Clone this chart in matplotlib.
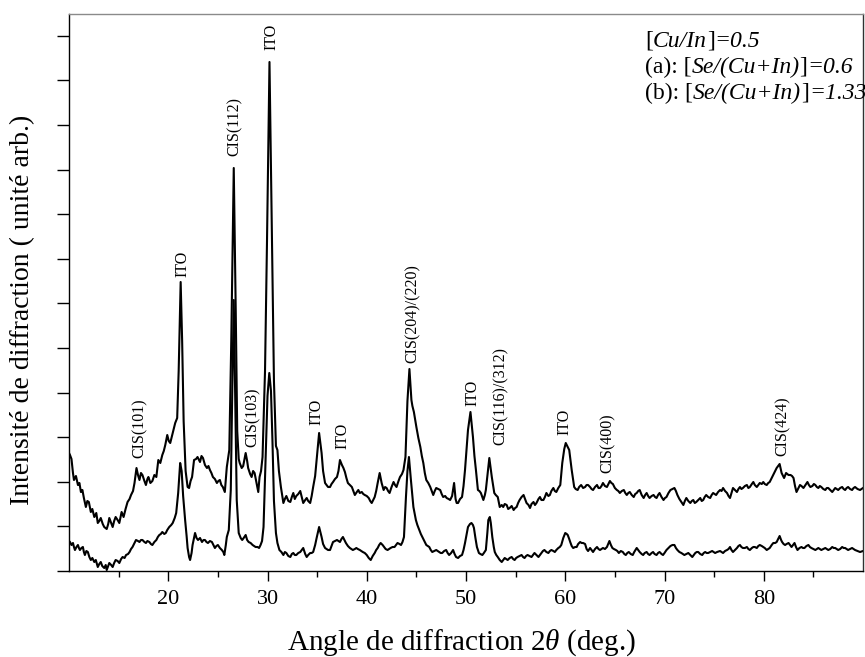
import numpy as np
import matplotlib
matplotlib.use("Agg")
import matplotlib.pyplot as plt
from matplotlib.ticker import FixedLocator

plt.rcParams['font.family'] = ['Liberation Serif', 'DejaVu Serif']
plt.rcParams['mathtext.fontset'] = 'custom'
plt.rcParams['mathtext.rm'] = 'Liberation Serif'
plt.rcParams['mathtext.it'] = 'Liberation Serif:italic'

# ---- diffraction scans (2theta in degrees, intensity in arbitrary units) ----
two_theta_top = [
    10.0, 10.1, 10.25, 10.4, 10.5, 10.7, 10.9, 11.05, 11.2, 11.35, 11.5, 11.7, 11.85, 12.0, 12.2, 12.35,
    12.55, 12.75, 12.9, 13.05, 13.2, 13.4, 13.55, 13.8, 13.95, 14.06, 14.25, 14.4, 14.55, 14.7, 14.9, 15.07,
    15.3, 15.5, 15.7, 15.9, 16.1, 16.25, 16.45, 16.6, 16.8, 16.95, 17.1, 17.25, 17.4, 17.6, 17.75, 17.9,
    18.0, 18.2, 18.4, 18.6, 18.8, 19.0, 19.2, 19.4, 19.55, 19.7, 19.9, 20.05, 20.2, 20.45, 20.7, 20.9,
    21.05, 21.25, 21.4, 21.55, 21.75, 21.95, 22.1, 22.25, 22.4, 22.6, 22.8, 22.95, 23.2, 23.35, 23.5, 23.7,
    23.9, 24.05, 24.2, 24.35, 24.5, 24.7, 24.9, 25.05, 25.2, 25.35, 25.5, 25.7, 25.9, 26.15, 26.35, 26.6,
    26.8, 26.95, 27.1, 27.2, 27.4, 27.55, 27.8, 27.95, 28.05, 28.25, 28.4, 28.55, 28.7, 28.9, 29.07, 29.2,
    29.35, 29.5, 29.75, 29.95, 30.2, 30.45, 30.65, 30.85, 31.0, 31.15, 31.35, 31.6, 31.75, 31.9, 32.1, 32.3,
    32.45, 32.6, 32.75, 32.9, 33.1, 33.3, 33.45, 33.6, 33.8, 33.95, 34.1, 34.3, 34.45, 34.6, 34.8, 34.95,
    35.2, 35.45, 35.6, 35.8, 36.1, 36.3, 36.45, 36.6, 36.8, 37.0, 37.15, 37.3, 37.5, 37.65, 37.8, 37.95,
    38.1, 38.3, 38.5, 38.65, 38.8, 39.0, 39.15, 39.3, 39.5, 39.65, 39.8, 40.0, 40.2, 40.35, 40.5, 40.65,
    40.8, 40.95, 41.1, 41.3, 41.5, 41.7, 41.85, 42.0, 42.15, 42.3, 42.5, 42.7, 42.85, 43.0, 43.2, 43.35,
    43.55, 43.7, 43.9, 44.1, 44.3, 44.5, 44.6, 44.75, 45.0, 45.2, 45.4, 45.55, 45.7, 45.85, 46.0, 46.2,
    46.4, 46.55, 46.7, 46.85, 47.0, 47.2, 47.4, 47.55, 47.7, 47.9, 48.05, 48.25, 48.4, 48.6, 48.8, 48.95,
    49.06, 49.2, 49.4, 49.6, 49.75, 49.9, 50.2, 50.45, 50.7, 50.85, 51.0, 51.2, 51.35, 51.5, 51.75, 51.9,
    52.0, 52.15, 52.35, 52.6, 52.85, 53.0, 53.2, 53.4, 53.6, 53.75, 53.9, 54.1, 54.25, 54.4, 54.6, 54.8,
    54.95, 55.1, 55.25, 55.4, 55.6, 55.8, 55.95, 56.1, 56.3, 56.45, 56.6, 56.8, 56.95, 57.1, 57.3, 57.45,
    57.6, 57.8, 57.95, 58.1, 58.3, 58.45, 58.6, 58.8, 58.95, 59.1, 59.3, 59.5, 59.7, 59.9, 60.05, 60.2,
    60.4, 60.65, 60.9, 61.05, 61.25, 61.4, 61.6, 61.8, 62.0, 62.15, 62.3, 62.5, 62.65, 62.8, 63.0, 63.2,
    63.35, 63.5, 63.65, 63.8, 64.0, 64.2, 64.35, 64.5, 64.65, 64.8, 65.0, 65.2, 65.35, 65.5, 65.7, 65.9,
    66.05, 66.2, 66.35, 66.5, 66.7, 66.9, 67.05, 67.2, 67.35, 67.5, 67.7, 67.9, 68.05, 68.2, 68.35, 68.5,
    68.7, 68.9, 69.05, 69.2, 69.35, 69.5, 69.7, 69.9, 70.05, 70.2, 70.4, 70.6, 70.8, 71.0, 71.15, 71.3,
    71.5, 71.7, 71.9, 72.05, 72.2, 72.4, 72.6, 72.75, 72.9, 73.05, 73.2, 73.4, 73.6, 73.75, 73.9, 74.05,
    74.2, 74.4, 74.6, 74.75, 74.9, 75.05, 75.2, 75.4, 75.6, 75.75, 75.9, 76.1, 76.3, 76.45, 76.6, 76.75,
    76.9, 77.1, 77.3, 77.45, 77.6, 77.75, 77.9, 78.1, 78.3, 78.45, 78.6, 78.8, 78.95, 79.1, 79.3, 79.45,
    79.6, 79.8, 79.95, 80.1, 80.3, 80.45, 80.6, 80.8, 80.96, 81.15, 81.3, 81.6, 81.8, 82.05, 82.25, 82.5,
    82.7, 82.85, 83.0, 83.15, 83.3, 83.5, 83.65, 83.8, 84.0, 84.2, 84.4, 84.55, 84.7, 84.9, 85.05, 85.2,
    85.35, 85.5, 85.65, 85.8, 86.0, 86.2, 86.35, 86.5, 86.7, 86.9, 87.05, 87.2, 87.35, 87.5, 87.7, 87.9,
    88.05, 88.2, 88.35, 88.5, 88.7, 88.9, 89.05, 89.2, 89.45, 89.7, 90.0,
]
intensity_top = [
    118, 116, 112, 98, 91, 95, 86, 88, 79, 81, 73, 64, 70, 69, 59, 62,
    54, 58, 48, 50, 53, 47, 44, 42, 47, 53, 48, 44, 50, 54, 51, 48,
    59, 54, 62, 69, 72, 76, 80, 88, 103, 96, 91, 98, 96, 90, 86, 92,
    94, 88, 90, 96, 94, 111, 108, 116, 120, 126, 136, 130, 128, 138, 148, 153,
    200, 289, 230, 150, 100, 84, 83, 90, 94, 111, 112, 114, 109, 115, 113, 106,
    103, 105, 101, 98, 94, 92, 88, 90, 91, 86, 84, 79, 104, 121, 230, 403,
    260, 140, 112, 108, 103, 105, 118, 110, 103, 97, 94, 100, 98, 88, 79, 94,
    100, 114, 200, 330, 509, 330, 190, 125, 121, 100, 84, 68, 72, 75, 70, 69,
    74, 78, 72, 75, 77, 80, 74, 68, 71, 73, 70, 68, 75, 84, 95, 111,
    138, 118, 100, 88, 84, 84, 87, 89, 92, 94, 100, 111, 106, 103, 99, 93,
    88, 86, 84, 80, 76, 79, 81, 78, 79, 77, 76, 75, 73, 70, 68, 71,
    74, 80, 88, 98, 88, 81, 84, 83, 80, 78, 84, 89, 86, 84, 90, 94,
    97, 101, 114, 170, 202, 171, 165, 159, 144, 133, 124, 115, 108, 98, 91, 88,
    84, 80, 76, 80, 83, 82, 81, 77, 74, 75, 73, 72, 71, 75, 88, 72,
    68, 68, 72, 74, 85, 101, 141, 159, 134, 115, 101, 81, 80, 78, 71, 76,
    81, 95, 113, 94, 78, 76, 74, 64, 66, 64, 67, 66, 62, 63, 65, 61,
    63, 64, 68, 71, 74, 76, 72, 68, 66, 63, 67, 69, 66, 68, 72, 74,
    71, 71, 74, 78, 75, 76, 80, 83, 80, 79, 83, 86, 108, 122, 128, 125,
    121, 101, 84, 82, 81, 84, 86, 83, 84, 86, 86, 84, 82, 81, 84, 86,
    83, 83, 85, 88, 85, 84, 87, 90, 88, 87, 83, 81, 80, 78, 80, 81,
    78, 76, 78, 79, 76, 74, 77, 78, 80, 81, 76, 73, 76, 78, 75, 73,
    75, 76, 74, 73, 76, 78, 74, 71, 73, 74, 78, 81, 82, 83, 80, 76,
    72, 69, 66, 70, 73, 70, 68, 70, 71, 68, 69, 71, 73, 70, 71, 74,
    76, 74, 73, 76, 78, 77, 76, 79, 81, 80, 83, 80, 78, 75, 73, 78,
    83, 81, 79, 82, 84, 82, 83, 85, 86, 83, 84, 87, 89, 86, 84, 86,
    88, 87, 89, 87, 86, 88, 89, 93, 96, 100, 103, 107, 98, 93, 98, 96,
    96, 95, 93, 85, 79, 83, 86, 85, 83, 86, 89, 86, 84, 85, 87, 86,
    84, 83, 85, 84, 82, 81, 83, 83, 81, 79, 81, 83, 82, 81, 83, 84,
    82, 81, 83, 84, 82, 81, 83, 84, 82, 81, 83,
]

two_theta_bottom = [
    10.0, 10.1, 10.25, 10.4, 10.5, 10.6, 10.75, 10.9, 11.0, 11.1, 11.25, 11.4, 11.5, 11.6, 11.75, 11.9,
    12.05, 12.2, 12.35, 12.55, 12.7, 12.9, 13.05, 13.2, 13.35, 13.55, 13.7, 13.8, 13.95, 14.06, 14.25, 14.4,
    14.55, 14.7, 14.9, 15.07, 15.25, 15.4, 15.6, 15.75, 15.95, 16.1, 16.25, 16.4, 16.6, 16.75, 16.95, 17.1,
    17.25, 17.4, 17.6, 17.75, 17.9, 18.1, 18.25, 18.4, 18.6, 18.8, 18.95, 19.1, 19.25, 19.4, 19.6, 19.75,
    19.9, 20.1, 20.3, 20.45, 20.65, 20.8, 21.0, 21.2, 21.35, 21.5, 21.7, 21.85, 21.95, 22.1, 22.2, 22.35,
    22.45, 22.6, 22.7, 22.85, 23.0, 23.2, 23.4, 23.55, 23.7, 23.85, 24.0, 24.2, 24.4, 24.55, 24.7, 24.85,
    25.0, 25.2, 25.4, 25.55, 25.65, 25.8, 25.9, 26.1, 26.3, 26.45, 26.6, 26.75, 26.9, 27.1, 27.3, 27.45,
    27.6, 27.8, 27.95, 28.1, 28.3, 28.5, 28.65, 28.8, 29.0, 29.15, 29.3, 29.45, 29.6, 29.8, 30.0, 30.18,
    30.35, 30.5, 30.65, 30.85, 31.0, 31.2, 31.4, 31.6, 31.75, 31.9, 32.1, 32.3, 32.45, 32.6, 32.75, 32.9,
    33.1, 33.3, 33.45, 33.6, 33.8, 33.95, 34.1, 34.3, 34.45, 34.6, 34.8, 34.95, 35.2, 35.45, 35.6, 35.8,
    35.95, 36.1, 36.3, 36.45, 36.6, 36.8, 37.0, 37.15, 37.3, 37.45, 37.6, 37.75, 37.9, 38.1, 38.3, 38.45,
    38.6, 38.8, 38.95, 39.1, 39.3, 39.45, 39.6, 39.8, 40.0, 40.2, 40.4, 40.6, 40.8, 40.95, 41.1, 41.25,
    41.4, 41.6, 41.75, 41.9, 42.1, 42.25, 42.4, 42.6, 42.8, 42.95, 43.1, 43.3, 43.45, 43.6, 43.75, 43.95,
    44.1, 44.25, 44.45, 44.7, 44.95, 45.1, 45.3, 45.45, 45.6, 45.8, 46.0, 46.15, 46.3, 46.45, 46.6, 46.8,
    47.0, 47.15, 47.3, 47.45, 47.6, 47.8, 48.0, 48.15, 48.3, 48.5, 48.7, 48.85, 49.0, 49.2, 49.4, 49.6,
    49.75, 49.9, 50.05, 50.2, 50.4, 50.55, 50.7, 50.8, 50.95, 51.1, 51.3, 51.45, 51.65, 51.8, 52.0, 52.15,
    52.25, 52.4, 52.5, 52.65, 52.8, 52.9, 53.05, 53.2, 53.4, 53.6, 53.75, 53.9, 54.05, 54.2, 54.4, 54.6,
    54.75, 54.9, 55.05, 55.2, 55.4, 55.6, 55.75, 55.9, 56.05, 56.2, 56.4, 56.6, 56.75, 56.9, 57.1, 57.3,
    57.45, 57.6, 57.75, 57.9, 58.1, 58.3, 58.45, 58.6, 58.8, 58.95, 59.1, 59.3, 59.45, 59.6, 59.8, 60.0,
    60.15, 60.25, 60.4, 60.5, 60.65, 60.8, 61.0, 61.15, 61.3, 61.5, 61.65, 61.8, 62.0, 62.15, 62.3, 62.5,
    62.65, 62.8, 63.0, 63.2, 63.35, 63.5, 63.65, 63.8, 64.0, 64.2, 64.45, 64.6, 64.75, 64.9, 65.1, 65.25,
    65.4, 65.6, 65.8, 65.95, 66.1, 66.25, 66.4, 66.6, 66.8, 66.95, 67.2, 67.35, 67.5, 67.7, 67.85, 68.0,
    68.2, 68.35, 68.5, 68.7, 68.85, 69.0, 69.2, 69.35, 69.5, 69.7, 69.85, 70.0, 70.2, 70.4, 70.6, 70.8,
    71.0, 71.15, 71.3, 71.5, 71.7, 71.85, 72.0, 72.2, 72.4, 72.6, 72.8, 72.95, 73.1, 73.25, 73.4, 73.6,
    73.8, 73.95, 74.1, 74.25, 74.4, 74.6, 74.8, 74.95, 75.1, 75.3, 75.6, 75.75, 75.9, 76.1, 76.3, 76.45,
    76.6, 76.75, 76.9, 77.1, 77.3, 77.45, 77.6, 77.75, 77.9, 78.1, 78.3, 78.45, 78.6, 78.8, 78.95, 79.1,
    79.3, 79.45, 79.6, 79.8, 79.95, 80.1, 80.3, 80.45, 80.6, 80.8, 80.96, 81.15, 81.3, 81.45, 81.6, 81.75,
    81.85, 82.0, 82.15, 82.3, 82.5, 82.65, 82.8, 82.95, 83.1, 83.25, 83.4, 83.6, 83.8, 83.95, 84.1, 84.3,
    84.5, 84.65, 84.8, 85.0, 85.2, 85.35, 85.5, 85.65, 85.8, 86.0, 86.2, 86.35, 86.5, 86.7, 86.9, 87.05,
    87.2, 87.35, 87.5, 87.7, 87.9, 88.05, 88.2, 88.35, 88.5, 88.7, 88.9, 89.05, 89.2, 89.45, 89.7, 90.0,
]
intensity_bottom = [
    30, 29, 26, 28, 24, 21, 24, 26, 23, 21, 23, 24, 19, 16, 20, 19,
    14, 11, 13, 9, 11, 4, 7, 9, 5, 3, 6, 1, 5, 8, 6, 4,
    8, 11, 10, 8, 12, 14, 13, 16, 17, 19, 22, 24, 28, 31, 30, 29,
    31, 31, 29, 28, 30, 29, 27, 26, 29, 31, 34, 36, 37, 39, 37, 38,
    41, 44, 46, 48, 53, 58, 78, 108, 100, 75, 51, 35, 23, 14, 11, 18,
    26, 33, 38, 33, 31, 33, 29, 31, 31, 29, 28, 30, 29, 26, 23, 25,
    26, 23, 21, 19, 16, 26, 34, 41, 81, 180, 271, 170, 71, 38, 33, 31,
    33, 36, 31, 29, 28, 26, 25, 24, 24, 23, 26, 30, 44, 110, 175, 198,
    180, 130, 70, 38, 28, 21, 19, 16, 19, 18, 15, 14, 17, 18, 16, 16,
    18, 19, 21, 23, 17, 14, 16, 18, 18, 19, 26, 33, 44, 34, 27, 23,
    22, 21, 21, 25, 29, 30, 31, 30, 29, 32, 34, 31, 28, 25, 23, 22,
    21, 22, 23, 22, 21, 20, 19, 18, 16, 13, 11, 15, 18, 21, 23, 26,
    28, 26, 24, 22, 21, 22, 23, 24, 24, 26, 28, 27, 26, 29, 34, 74,
    100, 114, 91, 64, 51, 46, 41, 37, 34, 30, 26, 25, 24, 21, 19, 20,
    21, 20, 19, 18, 18, 20, 21, 18, 16, 18, 21, 17, 14, 13, 15, 16,
    21, 28, 36, 44, 47, 48, 46, 43, 33, 24, 18, 17, 16, 18, 21, 38,
    51, 54, 48, 34, 24, 19, 16, 14, 11, 9, 11, 13, 12, 11, 13, 14,
    12, 11, 13, 14, 15, 16, 14, 13, 15, 16, 15, 14, 16, 18, 16, 14,
    16, 18, 20, 21, 19, 18, 20, 21, 20, 19, 21, 23, 24, 26, 33, 38,
    37, 36, 32, 29, 25, 23, 24, 24, 27, 29, 28, 28, 27, 22, 20, 23,
    21, 19, 22, 24, 22, 21, 22, 23, 22, 24, 30, 26, 23, 22, 21, 20,
    18, 20, 19, 17, 16, 18, 19, 17, 16, 19, 23, 21, 19, 17, 16, 18,
    19, 17, 16, 18, 19, 17, 16, 18, 19, 17, 16, 18, 21, 23, 25, 26,
    26, 23, 21, 19, 18, 17, 16, 17, 18, 16, 14, 16, 18, 19, 19, 17,
    16, 18, 19, 18, 18, 19, 20, 19, 18, 19, 20, 19, 18, 20, 21, 22,
    24, 21, 19, 21, 23, 25, 26, 24, 23, 23, 24, 22, 21, 23, 24, 24,
    23, 25, 26, 25, 24, 23, 21, 22, 23, 26, 28, 28, 29, 32, 35, 31,
    29, 27, 26, 27, 28, 26, 24, 26, 28, 24, 21, 23, 24, 23, 23, 25,
    26, 24, 23, 22, 21, 22, 23, 22, 21, 22, 23, 22, 21, 22, 24, 23,
    23, 22, 21, 22, 24, 23, 23, 22, 21, 22, 23, 22, 21, 20, 19, 20,
]

# ---- reflection assignments ----
peak_labels = ["CIS(101)", "ITO", "CIS(112)", "CIS(103)", "ITO", "ITO", "ITO",
               "CIS(204)/(220)", "ITO", "CIS(116)/(312)", "ITO", "CIS(400)", "CIS(424)"]
peak_label_x = [17.15, 21.45, 26.7, 28.5, 30.4, 34.95, 37.6,
                44.6, 50.7, 53.5, 59.9, 64.3, 81.9]
peak_label_base = [113, 294, 415, 124, 521, 146, 122,
                   208, 165, 126, 136, 98, 115]

x_major = [20, 30, 40, 50, 60, 70, 80]
x_minor = [15, 25, 35, 45, 55, 65, 75, 85]

fig = plt.figure(figsize=(8.65, 6.57), dpi=100)
ax = fig.add_axes([69 / 865, 86 / 657, 794 / 865, 557 / 657])

ax.plot(two_theta_top, intensity_top, color='black', lw=1.5)
ax.plot(two_theta_bottom, intensity_bottom, color='black', lw=1.5)

ax.set_xlim(10, 90)
ax.set_ylim(0, 557)

ytick_step = 44.6
ax.yaxis.set_major_locator(FixedLocator(np.arange(13) * ytick_step))
ax.xaxis.set_major_locator(FixedLocator(x_major))
ax.xaxis.set_minor_locator(FixedLocator(x_minor))
ax.tick_params(axis='y', direction='out', length=8.5, width=1.0, labelleft=False)
ax.tick_params(axis='x', which='major', direction='out', length=7, width=1.0,
               labelsize=16, pad=7)
ax.tick_params(axis='x', which='minor', direction='out', length=4.5, width=1.0)

for side in ['left', 'bottom']:
    ax.spines[side].set_color('black')
    ax.spines[side].set_linewidth(1.0)
ax.spines['top'].set_color('#8a8a8a')
ax.spines['right'].set_color('#303030')
ax.spines['top'].set_linewidth(1.0)
ax.spines['right'].set_linewidth(1.0)

ax.set_xlabel(r'Angle de diffraction $\mathit{2\theta}$ (deg.)', fontsize=21)
ax.xaxis.set_label_coords(0.495, -0.102)
ax.set_ylabel('Intensité de diffraction ( unité arb.)', fontsize=20)
ax.yaxis.set_label_coords(-0.043, 0.4686)

for lab, xp, yb in zip(peak_labels, peak_label_x, peak_label_base):
    ax.text(xp, yb, lab, rotation=90, ha='center', va='bottom', fontsize=11.5)

# composition notes in the upper-right corner (mixed upright / italic runs)
note_lines = [
    [("[", "normal"), ("Cu/In", "italic"), ("]", "normal"), ("=0.5", "italic")],
    [("(a): [", "normal"), ("Se/(Cu+In)", "italic"), ("]", "normal"), ("=0.6", "italic")],
    [("(b): [", "normal"), ("Se/(Cu+In)", "italic"), ("]", "normal"), ("=1.33", "italic")],
]
note_x = 645 / 865
note_baselines = [1 - 47 / 657, 1 - 73 / 657, 1 - 99 / 657]
note_size = 17
for pieces, yb in zip(note_lines, note_baselines):
    prev = None
    for txt, style in pieces:
        if prev is None:
            prev = fig.text(note_x, yb, txt, fontsize=note_size, style=style,
                            ha='left', va='baseline')
        else:
            prev = ax.annotate(txt, xy=(1, 0), xycoords=prev, ha='left',
                               va='bottom', fontsize=note_size, style=style,
                               annotation_clip=False)

fig.savefig('out.png', dpi=100)
